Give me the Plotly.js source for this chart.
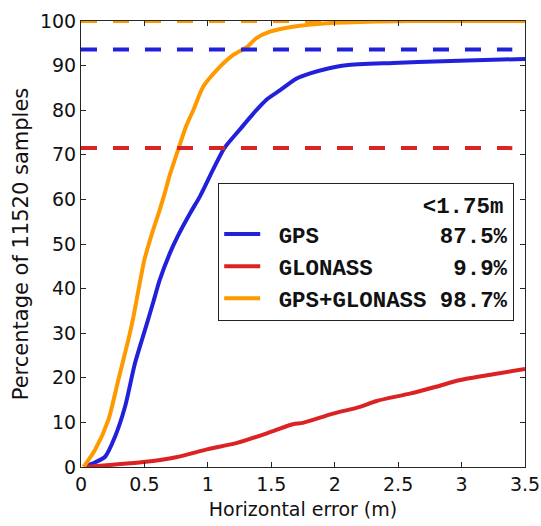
<!DOCTYPE html>
<html>
<head>
<meta charset="utf-8">
<script src="https://cdn.plot.ly/plotly-3.0.1.min.js"></script>
<style>html,body{margin:0;padding:0;background:#fff;}#chart{width:541px;height:526px;}</style>
</head>
<body>
<div id="chart"></div>
<script>
// ---- data ----
const gpsX = [0.03, 0.084, 0.19, 0.268, 0.347, 0.425, 0.52, 0.57, 0.62, 0.70, 0.76, 0.86, 0.94, 1.04, 1.13, 1.25, 1.36, 1.46, 1.57, 1.70, 1.80, 1.94, 2.09, 2.46, 2.85, 3.25, 3.5];
const gpsY = [0, 0.7, 2.3, 6.8, 13.5, 23.2, 32.2, 37.0, 41.9, 47.9, 51.6, 56.9, 60.8, 66.6, 71.5, 75.6, 79.3, 82.3, 84.5, 87.1, 88.2, 89.3, 90.1, 90.6, 91.0, 91.3, 91.5];

const glonassX = [0.03, 0.25, 0.49, 0.75, 1.0, 1.23, 1.49, 1.67, 1.75, 1.98, 2.2, 2.33, 2.6, 2.8, 2.99, 3.25, 3.5];
const glonassY = [0, 0.5, 1.1, 2.2, 4.0, 5.4, 7.8, 9.6, 9.9, 11.9, 13.5, 14.8, 16.5, 18.0, 19.5, 20.8, 22.0];

const bothX = [0.02, 0.11, 0.215, 0.294, 0.373, 0.412, 0.465, 0.50, 0.56, 0.62, 0.66, 0.70, 0.77, 0.83, 0.885, 0.964, 1.07, 1.2, 1.31, 1.38, 1.49, 1.67, 1.94, 2.33, 2.6, 3.5];
const bothY = [0, 3.8, 10.5, 19.5, 28.5, 33.5, 41.5, 46.5, 52.4, 57.6, 61.4, 65.5, 71.5, 76.5, 80, 85.3, 89, 92.4, 94.2, 96.1, 97.6, 98.7, 99.5, 99.9, 100, 100];

// availability reference levels (dashed)
const refX = [0, 3.4];
const gpsLevel = 93.6;
const glonassLevel = 71.5;
const bothLevel = 100;

const seriesNames = ['GPS', 'GLONASS', 'GPS+GLONASS'];
const below175 = ['87.5%', '9.9%', '98.7%'];
const legendHeader = '<1.75m';

const xTicks = [0, 0.5, 1, 1.5, 2, 2.5, 3, 3.5];
const xTickText = ['0', '0.5', '1', '1.5', '2', '2.5', '3', '3.5'];
const yTicks = [0, 10, 20, 30, 40, 50, 60, 70, 80, 90, 100];

// ---- styling ----
const cBlue = '#2121dc';
const cRed = '#dc2323';
const cOrange = '#ff9900';
const NB = '\u00a0';
function pad(name, val, width) {
  const n = width - name.length - val.length;
  return NB + name + NB.repeat(Math.max(1, n)) + val;
}
const W = 17;

function hline(level, color) {
  return {
    x: refX, y: [level, level], mode: 'lines', showlegend: false, hoverinfo: 'skip',
    cliponaxis: false,
    line: {color: color, width: 4, dash: '16px,16px'}
  };
}

const smooth = {shape: 'spline', smoothing: 0.7};

const traces = [
  {x: gpsX, y: gpsY, mode: 'lines', name: pad(seriesNames[0], below175[0], W), line: Object.assign({color: cBlue, width: 4}, smooth)},
  {x: glonassX, y: glonassY, mode: 'lines', name: pad(seriesNames[1], below175[1], W), line: Object.assign({color: cRed, width: 4}, smooth)},
  {x: bothX, y: bothY, mode: 'lines', name: pad(seriesNames[2], below175[2], W), line: Object.assign({color: cOrange, width: 4}, smooth), cliponaxis: false},
  hline(bothLevel, cOrange),
  hline(gpsLevel, cBlue),
  hline(glonassLevel, cRed)
];

const axisCommon = {
  showgrid: false, zeroline: false, showline: true, linecolor: '#262626', linewidth: 1,
  mirror: 'ticks', ticks: 'inside', ticklen: 5, tickcolor: '#262626', tickwidth: 1,
  tickfont: {family: 'DejaVu Sans', size: 19, color: '#111'}
};

const legFont = {family: 'Liberation Mono', size: 22.4, color: '#111', weight: 'bold'};

const layout = {
  width: 541, height: 526,
  margin: {l: 81, r: 16, t: 21, b: 59},
  paper_bgcolor: '#fff', plot_bgcolor: '#fff',
  showlegend: true,
  xaxis: Object.assign({}, axisCommon, {
    range: [0, 3.5], tickvals: xTicks, ticktext: xTickText,
    title: {text: 'Horizontal error (m)', font: {family: 'DejaVu Sans', size: 19, color: '#111'}, standoff: 8}
  }),
  yaxis: Object.assign({}, axisCommon, {
    range: [0, 100], tickvals: yTicks,
    title: {text: 'Percentage of 11520 samples', font: {family: 'DejaVu Sans', size: 21, color: '#111'}, standoff: 5}
  }),
  legend: {
    x: 0.309, y: 0.637, xanchor: 'left', yanchor: 'top',
    bgcolor: '#fff', bordercolor: '#222', borderwidth: 1,
    itemwidth: 36,
    font: legFont,
    title: {text: NB.repeat(W + 4 - legendHeader.length) + legendHeader.replace('<', '&lt;'), font: legFont},
    traceorder: 'normal'
  }
};

Plotly.newPlot('chart', traces, layout, {staticPlot: true, displayModeBar: false});
</script>
</body>
</html>
